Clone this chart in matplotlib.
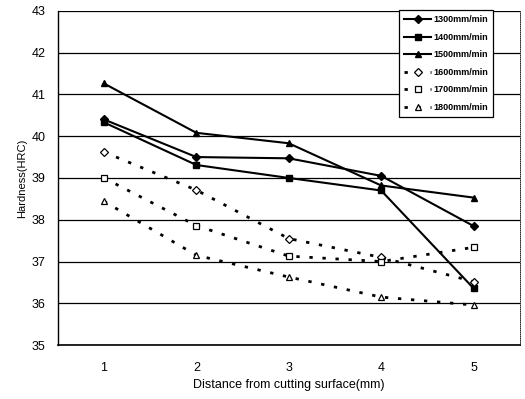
import matplotlib
matplotlib.use("Agg")
import matplotlib.pyplot as plt

plt.rcParams['font.family'] = ['Liberation Sans', 'DejaVu Sans']

distance = [1, 2, 3, 4, 5]
labels = ["1300mm/min", "1400mm/min", "1500mm/min", "1600mm/min", "1700mm/min", "1800mm/min"]
h1300 = [40.4, 39.5, 39.47, 39.05, 37.85]
h1400 = [40.33, 39.31, 39.0, 38.7, 36.36]
h1500 = [41.26, 40.08, 39.83, 38.82, 38.53]
h1600 = [39.62, 38.71, 37.55, 37.1, 36.52]
h1700 = [39.0, 37.86, 37.13, 37.0, 37.34]
h1800 = [38.44, 37.15, 36.63, 36.15, 35.96]

fig = plt.figure(figsize=(5.25, 3.99), dpi=100)
ax = fig.add_axes([0.110, 0.135, 0.880, 0.838])

ax.plot(distance, h1300, color='black', lw=1.5, marker='D', ms=4, label=labels[0])
ax.plot(distance, h1400, color='black', lw=1.5, marker='s', ms=5, label=labels[1])
ax.plot(distance, h1500, color='black', lw=1.5, marker='^', ms=5, label=labels[2])
dots = (0, (1.2, 3.5))
ax.plot(distance, h1600, color='black', lw=2, ls=dots, marker='D', ms=4.5,
        mfc='white', mew=0.9, label=labels[3])
ax.plot(distance, h1700, color='black', lw=2, ls=dots, marker='s', ms=5,
        mfc='white', mew=0.9, label=labels[4])
ax.plot(distance, h1800, color='black', lw=2, ls=dots, marker='^', ms=5,
        mfc='white', mew=0.9, label=labels[5])

ax.set_xlim(0.5, 5.5)
ax.set_ylim(35, 43)
ax.set_xticks(distance)
ax.set_yticks(range(35, 44))
ax.tick_params(length=0, labelsize=9)
ax.tick_params(axis='y', pad=9)
ax.tick_params(axis='x', pad=12)
ax.yaxis.grid(True, color='black', lw=0.9)
ax.set_axisbelow(True)

for side in ['top', 'right']:
    ax.spines[side].set_linestyle((0, (1, 1.5)))
    ax.spines[side].set_linewidth(0.6)
ax.spines['bottom'].set_linewidth(1.2)
ax.spines['left'].set_linewidth(1.0)

ax.set_xlabel("Distance from cutting surface(mm)", fontsize=9, labelpad=4)
ax.set_ylabel("Hardness(HRC)", fontsize=8, labelpad=3)

leg = ax.legend(loc='upper right', bbox_to_anchor=(0.943, 1.003), fontsize=6.5,
                frameon=True, fancybox=False, edgecolor='black', framealpha=1,
                handlelength=3.0, labelspacing=0.95, borderpad=0.6, handletextpad=0.2,
                borderaxespad=0)
leg.get_frame().set_linewidth(0.9)
for t in leg.get_texts():
    t.set_fontweight('bold')

fig.savefig("out.png", dpi=100)
